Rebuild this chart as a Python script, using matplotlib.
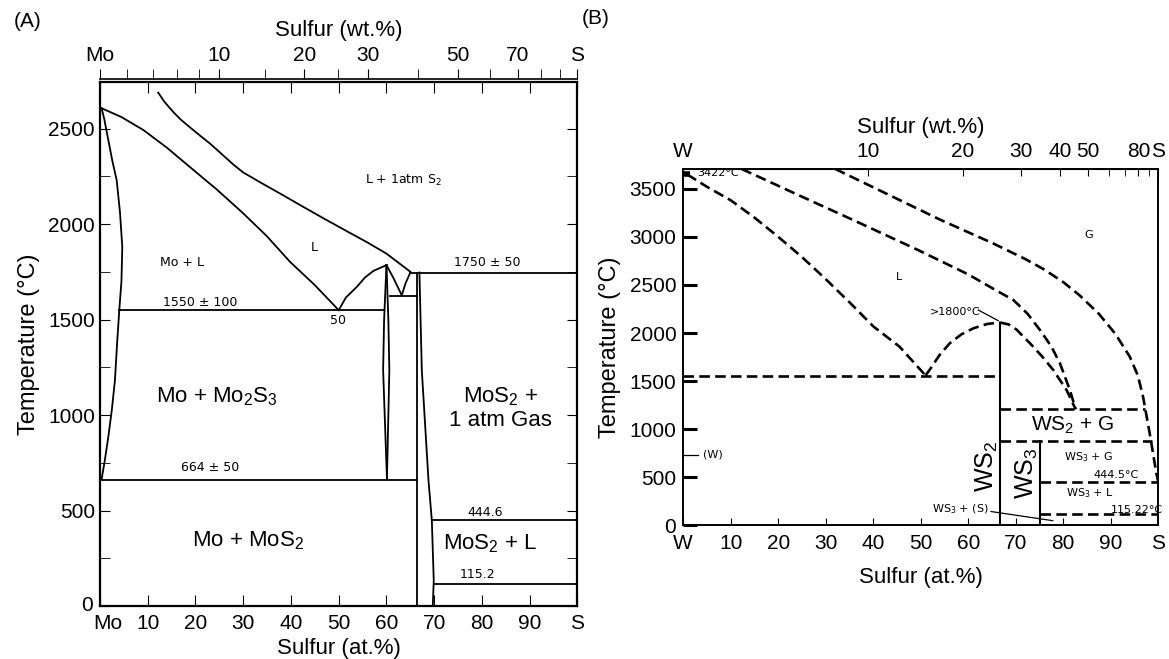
import numpy as np
import matplotlib
matplotlib.use("Agg")
import matplotlib.pyplot as plt
from matplotlib.transforms import ScaledTranslation

plt.rcParams['font.family'] = ['Liberation Sans', 'DejaVu Sans']
plt.rcParams['mathtext.default'] = 'regular'

M_S, M_MO, M_W = 32.06, 95.95, 183.84

# ---- (A) Mo-S : x = at.% S, y = deg C
a_liq_x = [0.35, 4.5, 9.1, 14, 18.9, 24.5, 30.0, 35, 39.8, 45, 50.0]
a_liq_y = [2606, 2560, 2492, 2400, 2297, 2180, 2056, 1935, 1802, 1680, 1549]
a_sol_x = [0.35, 0.9, 1.75, 2.6, 3.5, 4.2, 4.68, 4.5, 4.05, 3.6, 3.14, 2.5, 1.75, 1.0, 0.35]
a_sol_y = [2606, 2550, 2440, 2330, 2230, 2060, 1880, 1700, 1549, 1380, 1182, 1030, 885, 760, 664]
a_gas_x = [12.2, 13.5, 15.4, 17, 18.9, 21, 23.1, 26, 28, 30, 34, 38.4, 42, 46.8, 51, 55.9, 60, 65.0]
a_gas_y = [2688, 2640, 2585, 2545, 2505, 2462, 2420, 2355, 2310, 2270, 2212, 2150, 2098, 2030, 1972, 1905, 1845, 1750]
a_m23liq_x = [50.0, 51.5, 53.8, 55.5, 57.3, 60.0]
a_m23liq_y = [1549, 1615, 1671, 1720, 1755, 1785]
a_m23l_x = [60.0, 59.5, 59.3, 60.1]
a_m23l_y = [1785, 1496, 1234, 664]
a_m23r_x = [60.0, 60.4, 60.6, 60.1]
a_m23r_y = [1785, 1496, 1234, 664]
a_eut2_x = [60.0, 61.5, 63.2]
a_eut2_y = [1785, 1715, 1627]
a_eut2b_x = [65.0, 64.0, 63.2]
a_eut2b_y = [1746, 1690, 1627]
a_mos2r_x = [66.9, 67.4, 68.8, 69.5, 69.9, 69.7]
a_mos2r_y = [1746, 1234, 657, 448, 134, 0]
a_mos2l = 66.4
a_iso = {  # T : (x0, x1)
    1549: (4.05, 59.4),
    1622: (60.8, 66.4),
    1746: (65.0, 100),
    661: (0.35, 66.4),
    448: (69.5, 100),
    116: (69.9, 100),
}

# ---- (B) W-S
b_liq_x = [0.8, 5, 10, 15, 20, 25, 30, 35, 40, 45.5, 51.0]
b_liq_y = [3650, 3520, 3380, 3200, 3000, 2790, 2560, 2320, 2070, 1860, 1560]
b_mid_x = [12.3, 24, 36, 49.4, 60, 66, 69.5, 72.5, 75.1, 77.5, 79.3, 81.4, 82.6]
b_mid_y = [3706, 3440, 3170, 2864, 2610, 2440, 2344, 2200, 2032, 1860, 1686, 1408, 1208]
b_out_x = [32.0, 44.7, 54.2, 65.2, 72, 76, 80, 83.5, 87.5, 91, 94, 95.7, 96.8, 98.2, 99.6, 100]
b_out_y = [3706, 3403, 3176, 2933, 2770, 2660, 2530, 2390, 2200, 1990, 1755, 1560, 1339, 958, 543, 455]
b_up_x = [51.0, 51.9, 54, 56.1, 58.5, 61.1, 64, 66.7]
b_up_y = [1560, 1620, 1775, 1894, 1985, 2050, 2095, 2110]
b_dn_x = [66.7, 68.5, 70.2, 71.6, 73.0, 75.5, 77.9, 80.7, 82.6]
b_dn_y = [2110, 2090, 2035, 1963, 1894, 1760, 1616, 1408, 1208]
b_iso = {
    1554: (0, 66.7),
    1208: (66.7, 97.2),
    878: (66.7, 98.6),
    455: (75, 100),
    116: (75, 100),
}
b_ws2, b_ws2_top = 66.7, 2110
b_ws3, b_ws3_top = 75.0, 878
b_wmp = 3650


def at_to_wt(m):
    def f(a):
        a = np.clip(np.asarray(a, float), 0, 100)
        return 100 * a * M_S / (a * M_S + (100 - a) * m)
    return f


def wt_to_at(m):
    def f(w):
        w = np.clip(np.asarray(w, float), 0, 100)
        return 100 * (w / M_S) / (w / M_S + (100 - w) / m)
    return f


fig = plt.figure(figsize=(11.69, 6.59), dpi=100)
k = dict(color='black', lw=1.3)
hand = dict(family='DejaVu Sans', fontsize=9, ha='center', va='center')
big = dict(fontsize=16, ha='center', va='center')

# ================= panel A
axA = fig.add_axes([0.0855, 0.0804, 0.4085, 0.7956])
axA.plot(a_liq_x, a_liq_y, **k)
axA.plot(a_sol_x, a_sol_y, **k)
axA.plot(a_gas_x, a_gas_y, **k)
axA.plot(a_m23liq_x, a_m23liq_y, **k)
axA.plot(a_m23l_x, a_m23l_y, **k)
axA.plot(a_m23r_x, a_m23r_y, **k)
axA.plot(a_eut2_x, a_eut2_y, **k)
axA.plot(a_eut2b_x, a_eut2b_y, **k)
axA.plot(a_mos2r_x, a_mos2r_y, **k)
axA.plot([a_mos2l, a_mos2l], [0, 1746], **k)
for t, (x0, x1) in a_iso.items():
    axA.plot([x0, x1], [t, t], **k)

axA.set_xlim(0, 100)
axA.set_ylim(0, 2745)
axA.set_xticks(range(0, 101, 10))
axA.set_xticklabels(['Mo'] + [str(v) for v in range(10, 100, 10)] + ['S'])
axA.set_yticks(range(0, 2501, 500))
axA.set_yticks(range(250, 2745, 500), minor=True)
axA.tick_params(axis='x', direction='in', top=True, length=8, labelsize=15, pad=6)
axA.tick_params(axis='y', which='both', direction='in', right=True, length=7, labelsize=15)
for s in axA.spines.values():
    s.set_linewidth(1.6)
axA.set_xlabel('Sulfur (at.%)', fontsize=16, labelpad=3)
axA.set_ylabel('Temperature (°C)', fontsize=17, labelpad=6)

# nudge the corner labels apart, as in the original
lab = axA.xaxis.get_major_ticks()[0].label1
lab.set_transform(lab.get_transform() + ScaledTranslation(8 / 100, 0, fig.dpi_scale_trans))
lab = axA.yaxis.get_major_ticks()[0].label1
lab.set_transform(lab.get_transform() + ScaledTranslation(-2 / 100, 3 / 100, fig.dpi_scale_trans))

secA = axA.secondary_xaxis(1.006, functions=(at_to_wt(M_MO), wt_to_at(M_MO)))
secA.set_xticks([0, 10, 20, 30, 50, 70, 100], ['Mo', '10', '20', '30', '50', '70', 'S'])
secA.set_xticks([2, 4, 6, 8, 15, 25, 40, 60, 80, 90], minor=True)
secA.tick_params(which='both', direction='out', length=7, labelsize=15, pad=3)
secA.spines['top'].set_linewidth(1.2)
secA.set_xlabel('Sulfur (wt.%)', fontsize=16, labelpad=7)

axA.text(63.5, 2230, 'L + 1atm S$_2$', **hand)
axA.text(44.9, 1879, 'L', **hand)
axA.text(17.2, 1800, 'Mo + L', **hand)
axA.text(81.1, 1800, '1750 ± 50', **hand)
axA.text(21, 1591, '1550 ± 100', **hand)
axA.text(49.9, 1496, '50', **hand)
axA.text(23.1, 726, '664 ± 50', **hand)
axA.text(80.7, 492, '444.6', **hand)
axA.text(79, 165, '115.2', **hand)
axA.text(24.5, 1094, 'Mo + Mo$_2$S$_3$', **big)
axA.text(83.9, 1035, 'MoS$_2$ +\n1 atm Gas', linespacing=1.1, **big)
axA.text(31, 343, 'Mo + MoS$_2$', **big)
axA.text(81.8, 328, 'MoS$_2$ + L', **big)

# ================= panel B
axB = fig.add_axes([0.5845, 0.2026, 0.4063, 0.541])
d = dict(color='black', lw=1.9, ls=(0, (4, 2)))
axB.plot(b_liq_x, b_liq_y, **d)
axB.plot(b_mid_x, b_mid_y, **d)
axB.plot(b_out_x, b_out_y, **d)
axB.plot(b_up_x, b_up_y, **d)
axB.plot(b_dn_x, b_dn_y, **d)
for t, (x0, x1) in b_iso.items():
    axB.plot([x0, x1], [t, t], **d)
axB.plot([b_ws2, b_ws2], [0, b_ws2_top], color='black', lw=1.5)
axB.plot([b_ws3, b_ws3], [0, b_ws3_top], color='black', lw=1.5)
axB.plot([0, 1.5], [b_wmp, b_wmp], color='black', lw=4, solid_capstyle='butt')
axB.plot([0, 3], [733, 733], color='black', lw=0.9)
axB.plot([64.8, 77.8], [145, 50], color='black', lw=0.9)
axB.plot([62.1, 66.3], [2240, 2129], color='black', lw=0.9)

axB.set_xlim(0, 100)
axB.set_ylim(0, 3706)
axB.set_xticks(range(0, 101, 10))
axB.set_xticklabels(['W'] + [str(v) for v in range(10, 100, 10)] + ['S'])
axB.set_yticks(range(0, 3501, 500))
axB.tick_params(axis='x', direction='in', length=5, labelsize=15, pad=6)
axB.tick_params(axis='y', direction='in', length=10, width=2.2, labelsize=15, pad=5)
for s in axB.spines.values():
    s.set_linewidth(1.4)
axB.set_xlabel('Sulfur (at.%)', fontsize=16, labelpad=10)
axB.set_ylabel('Temperature (°C)', fontsize=17, labelpad=6)

secB = axB.secondary_xaxis('top', functions=(at_to_wt(M_W), wt_to_at(M_W)))
secB.set_xticks([0, 10, 20, 30, 40, 50, 80, 100], ['W', '10', '20', '30', '40', '50', '80', 'S'])
secB.set_xticks([60, 70, 90], minor=True)
secB.tick_params(which='both', direction='in', length=5, labelsize=15, pad=6)
secB.set_xlabel('Sulfur (wt.%)', fontsize=16, labelpad=6)

hb = dict(family='DejaVu Sans', fontsize=8, va='center')
axB.text(2.9, 3660, '3422°C', ha='left', **hb)
axB.text(45.4, 2583, 'L', ha='center', **hb)
axB.text(85.4, 3020, 'G', ha='center', **hb)
axB.text(57.2, 2219, '>1800°C', ha='center', **hb)
axB.text(85.4, 715, 'WS$_3$ + G', ha='center', **hb)
axB.text(91.2, 525, '444.5°C', ha='center', **hb)
axB.text(85.7, 335, 'WS$_3$ + L', ha='center', **hb)
axB.text(95.4, 161, '115.22°C', ha='center', **hb)
axB.text(58.3, 168, 'WS$_3$ + (S)', ha='center', **hb)
axB.text(6.2, 733, '(W)', ha='center', **hb)
axB.text(82.0, 1045, 'WS$_2$ + G', fontsize=15, ha='center', va='center')
axB.text(63.9, 611, 'WS$_2$', fontsize=18, rotation=90, ha='center', va='center')
axB.text(72.3, 542, 'WS$_3$', fontsize=18, rotation=90, ha='center', va='center')

fig.text(0.012, 0.968, '(A)', fontsize=15, va='center')
fig.text(0.498, 0.972, '(B)', fontsize=15, va='center')

fig.savefig('out.png', dpi=100)
